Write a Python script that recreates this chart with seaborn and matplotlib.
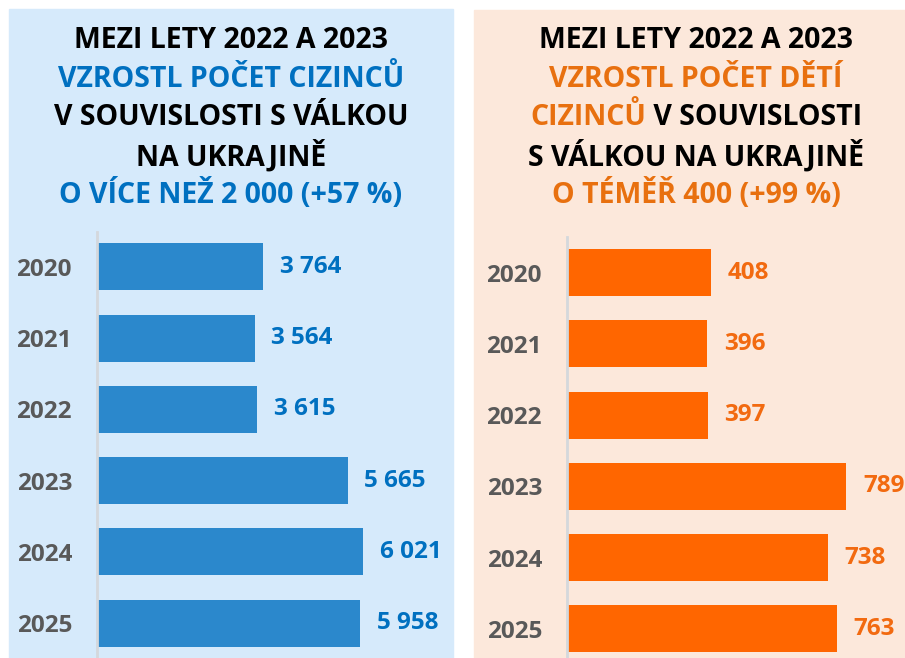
import matplotlib
matplotlib.use("Agg")
import matplotlib.pyplot as plt
import seaborn as sns
import pandas as pd
from matplotlib.patches import Rectangle

# data
years = ["2020", "2021", "2022", "2023", "2024", "2025"]
foreigners = [3764, 3564, 3615, 5665, 6021, 5958]
children = [408, 396, 397, 789, 738, 763]

BLUE_BAR = "#2B88CC"
BLUE_TXT = "#0070C0"
ORANGE_BAR = "#FF6600"
ORANGE_TXT = "#E8700F"
ORANGE_LBL = "#F26A10"
GRAY = "#595959"

left_title = [
    [("MEZI LETY 2022 A 2023", "black")],
    [("VZROSTL POČET CIZINCŮ", BLUE_TXT)],
    [("V SOUVISLOSTI S VÁLKOU", "black")],
    [("NA UKRAJINĚ", "black")],
    [("O VÍCE NEŽ 2 000 (+57 %)", BLUE_TXT)],
]
right_title = [
    [("MEZI LETY 2022 A 2023", "black")],
    [("VZROSTL POČET DĚTÍ", ORANGE_TXT)],
    [("CIZINCŮ", ORANGE_TXT), (" V SOUVISLOSTI", "black")],
    [("S VÁLKOU NA UKRAJINĚ", "black")],
    [("O TÉMĚŘ 400 (+99 %)", ORANGE_TXT)],
]

sns.set_theme(style="white")
plt.rcParams["font.family"] = ["Open Sans", "DejaVu Sans"]

W, H = 905, 658
fig = plt.figure(figsize=(W / 100, H / 100), dpi=100)
fig.patch.set_facecolor("white")


def px(x0, y0, x1, y1):
    # pixel box (top-left origin) -> figure fraction rect
    return [x0 / W, 1 - y1 / H, (x1 - x0) / W, (y1 - y0) / H]


fig.add_artist(Rectangle((9 / W, 0), (453 - 9) / W, 1 - 9 / H,
                         transform=fig.transFigure, color="#D6EAFB", zorder=0))
fig.add_artist(Rectangle((474 / W, 0), (905 - 474) / W, 1 - 10 / H,
                         transform=fig.transFigure, color="#FCE8DB", zorder=0))

renderer = fig.canvas.get_renderer()


def draw_title(lines, xc, y_first, step, size=20.5):
    for i, segs in enumerate(lines):
        y = 1 - (y_first + i * step) / H
        texts = []
        total = 0
        for s, c in segs:
            t = fig.text(0, y, s, color=c, fontsize=size, fontweight="bold",
                         va="center", ha="left")
            w = t.get_window_extent(renderer).width
            texts.append((t, w))
            total += w
        x = xc - total / 2
        for t, w in texts:
            t.set_x(x / W)
            x += w


draw_title(left_title, 231, 41, 38.3)
draw_title(right_title, 696, 41, 38.3)


def panel(rect, values, color, lbl_color, ylim, xmax):
    ax = fig.add_axes(rect)
    df = pd.DataFrame({"year": years, "value": values})
    sns.barplot(data=df, x="value", y="year", color=color, width=0.66,
                saturation=1, linewidth=0, ax=ax)
    ax.set_facecolor("none")
    ax.set_xlim(0, xmax)
    ax.set_ylim(*ylim)
    ax.set_xlabel("")
    ax.set_ylabel("")
    ax.set_xticks([])
    for s in ["top", "right", "bottom"]:
        ax.spines[s].set_visible(False)
    ax.spines["left"].set_color("#D4D8DC")
    ax.spines["left"].set_linewidth(2)
    ax.tick_params(axis="y", length=0, pad=18, labelsize=17.5, labelcolor=GRAY)
    for lab in ax.get_yticklabels():
        lab.set_fontweight("bold")
    labels = [f"{v:,}".replace(",", " ") for v in values]
    ax.bar_label(ax.containers[0], labels=labels, padding=12, fontsize=17.5,
                 fontweight="bold", color=lbl_color)
    return ax


panel(px(97, 232, 453, 658), foreigners, BLUE_BAR, BLUE_TXT, (5.49, -0.49), 8050)
panel(px(567, 237, 905, 658), children, ORANGE_BAR, ORANGE_LBL, (5.41, -0.5), 955)

fig.savefig("out.png", dpi=100)
